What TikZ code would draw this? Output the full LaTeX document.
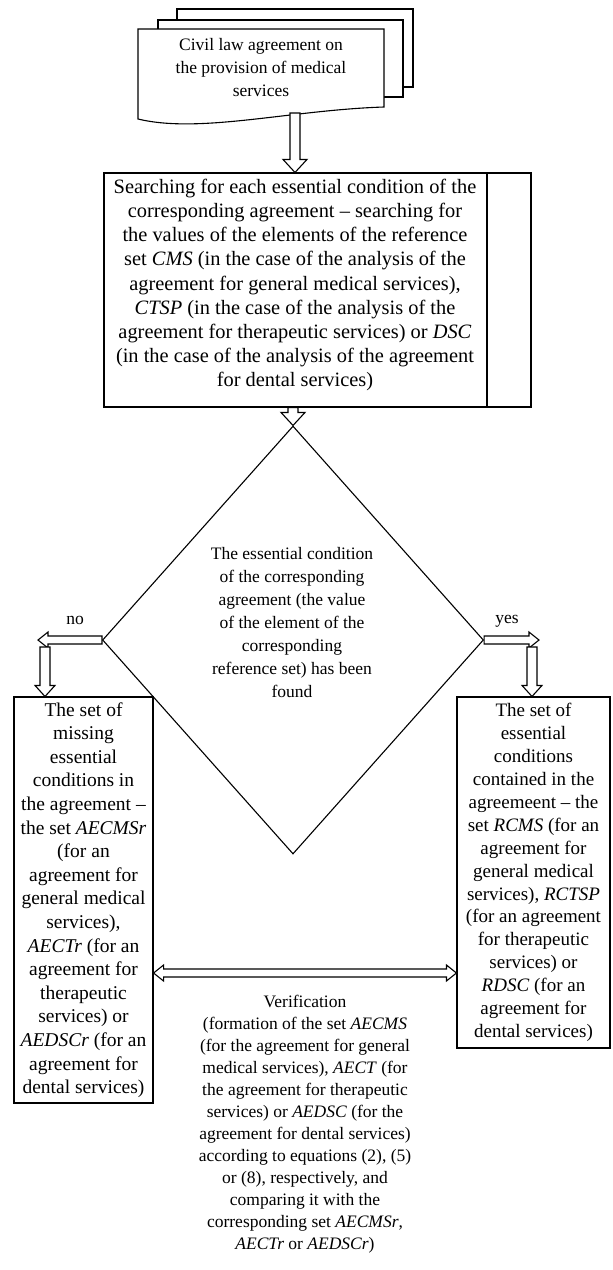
\documentclass[tikz,border=0pt]{standalone}
\usepackage{fontspec}
\setmainfont{Liberation Serif}
\usetikzlibrary{calc, positioning, shapes.geometric}

% hollow block arrow: shaft half width, head half width, head length, from, to
\newcommand{\blockarrow}[5]{%
  \draw[fill=white] let \p1=(#4), \p2=(#5),
    \n1={veclen(\x2-\x1,\y2-\y1)}, \n2={atan2(\y2-\y1,\x2-\x1)} in
    [shift={(\p1)}, rotate=\n2]
    (0pt,#1) -- (\n1-#3,#1) -- (\n1-#3,#2) -- (\n1,0pt) -- (\n1-#3,-#2)
    -- (\n1-#3,-#1) -- (0pt,-#1) -- cycle;}
% same, with a head at both ends
\newcommand{\dblockarrow}[5]{%
  \draw[fill=white] let \p1=(#4), \p2=(#5),
    \n1={veclen(\x2-\x1,\y2-\y1)}, \n2={atan2(\y2-\y1,\x2-\x1)} in
    [shift={(\p1)}, rotate=\n2]
    (0pt,0pt) -- (#3,#2) -- (#3,#1) -- (\n1-#3,#1) -- (\n1-#3,#2) -- (\n1,0pt)
    -- (\n1-#3,-#2) -- (\n1-#3,-#1) -- (#3,-#1) -- (#3,-#2) -- cycle;}

\begin{document}
\begin{tikzpicture}[x=1pt,y=-1pt,line width=1.1pt,
  every node/.style={font=\fontsize{17.5}{23}\selectfont, align=center, inner sep=0pt}]
  \tikzstyle{box}=[draw, rectangle]
  \useasboundingbox (0,0) rectangle (613,1270);

  % stacked document
  \draw[fill=white] (177,20) -- (177,9) -- (413,9) -- (413,87) -- (403,87);
  \draw[fill=white] (158,29) -- (158,20) -- (403,20) -- (403,97) -- (384,97);
  \draw[fill=white] (138,29) -- (384,29) -- (384,107)
    .. controls (290,110) and (200,134) .. (138,119) -- cycle;
  \node (contract) at (261,68) {Civil law agreement on\\the provision of medical\\services};

  % search block
  \node[box, minimum width=427pt, minimum height=234pt] (search) at (317.5,290) {};
  \draw (487,173) -- (487,407);
  \node[font=\fontsize{20.4}{24.2}\selectfont] (searchtext) at (295,285)
    {Searching for each essential condition of the\\
     corresponding agreement – searching for\\
     the values of the elements of the reference\\
     set \textit{CMS} (in the case of the analysis of the\\
     agreement for general medical services),\\
     \textit{CTSP} (in the case of the analysis of the\\
     agreement for therapeutic services) or \textit{DSC}\\
     (in the case of the analysis of the agreement\\
     for dental services)};

  % decision
  \node[draw, diamond, minimum width=381pt, minimum height=428pt] (check) at (293,640) {};
  \node (checktext) at (292,623)
    {The essential condition\\of the corresponding\\agreement (the value\\
     of the element of the\\corresponding\\reference set) has been\\found};

  % result sets
  \node[box, minimum width=139pt, minimum height=406pt,
        font=\fontsize{19.5}{23.6}\selectfont] (missing) at (83.5,900)
    {The set of\\missing\\essential\\conditions in\\the agreement –\\the set \textit{AECMSr}\\
     (for an\\agreement for\\general medical\\services),\\\textit{AECTr} (for an\\
     agreement for\\therapeutic\\services) or\\\textit{AEDSCr} (for an\\agreement for\\
     dental services)};
  \node[box, minimum width=153pt, minimum height=351pt,
        font=\fontsize{19}{22.9}\selectfont] (found) at (533.5,872.5)
    {The set of\\essential\\conditions\\contained in the\\agreemeent – the\\
     set \textit{RCMS} (for an\\agreement for\\general medical\\services), \textit{RCTSP}\\
     (for an agreement\\for therapeutic\\services) or\\\textit{RDSC} (for an\\
     agreement for\\dental services)};

  \node[font=\fontsize{17.5}{22}\selectfont] (verif) at (305,1124)
    {Verification\\(formation of the set \textit{AECMS}\\(for the agreement for general\\
     medical services), \textit{AECT} (for\\the agreement for therapeutic\\
     services) or \textit{AEDSC} (for the\\agreement for dental services)\\
     according to equations (2), (5)\\or (8), respectively, and\\comparing it with the\\
     corresponding set \textit{AECMSr},\\\textit{AECTr} or \textit{AEDSCr})};

  \node (no) at (75,620) {no};
  \node (yes) at (507,621) {yes};

  \coordinate (docbottom) at (295,113);
  \coordinate (noend) at (38,640);
  \coordinate (nodrop) at (45,647);
  \coordinate (yesend) at (539,640);
  \coordinate (yesdrop) at (532,647);
  \coordinate (linky) at (300,973);

  \blockarrow{5pt}{12pt}{13pt}{docbottom}{docbottom |- search.north}
  \blockarrow{5pt}{12pt}{13pt}{check.north |- search.south}{check.north}
  \blockarrow{4pt}{8pt}{10pt}{check.west}{noend |- check.west}
  \blockarrow{5pt}{10pt}{11pt}{nodrop}{nodrop |- missing.north}
  \blockarrow{4pt}{8pt}{10pt}{check.east}{yesend |- check.east}
  \blockarrow{5pt}{10pt}{11pt}{yesdrop}{yesdrop |- found.north}
  \dblockarrow{4pt}{8pt}{10pt}{missing.east |- linky}{found.west |- linky}
\end{tikzpicture}
\end{document}
